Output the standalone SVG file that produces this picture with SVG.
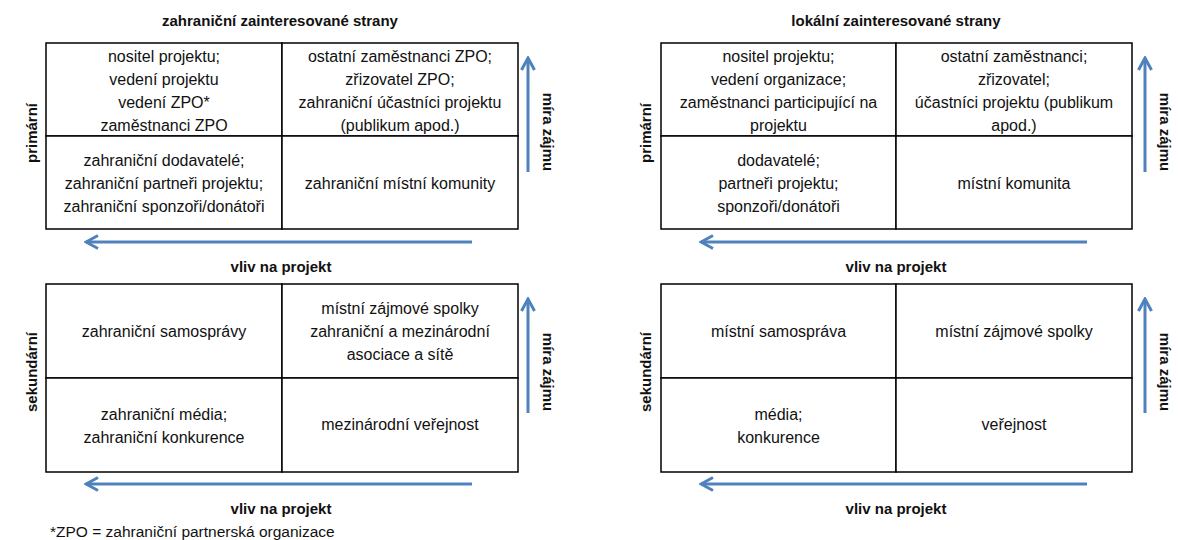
<svg xmlns="http://www.w3.org/2000/svg" width="1178" height="540" viewBox="0 0 1178 540">
<style>
  .cell { fill: #fff; stroke: #000; stroke-width: 1.5; }
  .t { font-family: "Liberation Sans", Arial, sans-serif; font-size: 16px; fill: #111; text-anchor: middle; }
  .b { font-family: "Liberation Sans", Arial, sans-serif; font-size: 15px; font-weight: bold; fill: #111; text-anchor: middle; }
  .fn { font-family: "Liberation Sans", Arial, sans-serif; font-size: 15.5px; fill: #111; }
  .arr { fill: none; stroke: #4F81BD; stroke-width: 3; marker-end: url(#ah); }
</style>
<defs>
  <marker id="ah" viewBox="-14 -9 16 18" refX="0" refY="0" markerWidth="16" markerHeight="18" markerUnits="userSpaceOnUse" orient="auto">
    <path d="M-12,-6.5 L0,0 L-12,6.5" fill="none" stroke="#4F81BD" stroke-width="3" stroke-linejoin="miter"/>
  </marker>
</defs>
<rect width="1178" height="540" fill="#fff"/>

<!-- titles -->
<g id="title-left"><text class="b" x="280" y="26">zahraniční zainteresované strany</text></g>
<g id="title-right"><text class="b" x="896" y="26">lokální zainteresované strany</text></g>

<!-- LEFT TOP GRID -->
<g id="lt-q1"><rect class="cell" x="46" y="43" width="236" height="93"/>
  <text class="t" x="164" y="62">nositel projektu;</text>
  <text class="t" x="164" y="85">vedení projektu</text>
  <text class="t" x="164" y="108">vedení ZPO*</text>
  <text class="t" x="164" y="131">zaměstnanci ZPO</text></g>
<g id="lt-q2"><rect class="cell" x="282" y="43" width="236" height="93"/>
  <text class="t" x="400" y="62">ostatní zaměstnanci ZPO;</text>
  <text class="t" x="400" y="85">zřizovatel ZPO;</text>
  <text class="t" x="400" y="108">zahraniční účastníci projektu</text>
  <text class="t" x="400" y="131">(publikum apod.)</text></g>
<g id="lt-q3"><rect class="cell" x="46" y="136" width="236" height="93"/>
  <text class="t" x="164" y="166">zahraniční dodavatelé;</text>
  <text class="t" x="164" y="189">zahraniční partneři projektu;</text>
  <text class="t" x="164" y="212">zahraniční sponzoři/donátoři</text></g>
<g id="lt-q4"><rect class="cell" x="282" y="136" width="236" height="93"/>
  <text class="t" x="400" y="189">zahraniční místní komunity</text></g>

<!-- LEFT BOTTOM GRID -->
<g id="lb-q1"><rect class="cell" x="46" y="284" width="236" height="94"/>
  <text class="t" x="164" y="337">zahraniční samosprávy</text></g>
<g id="lb-q2"><rect class="cell" x="282" y="284" width="236" height="94"/>
  <text class="t" x="400" y="314">místní zájmové spolky</text>
  <text class="t" x="400" y="337">zahraniční a mezinárodní</text>
  <text class="t" x="400" y="360">asociace a sítě</text></g>
<g id="lb-q3"><rect class="cell" x="46" y="378" width="236" height="94"/>
  <text class="t" x="164" y="420">zahraniční média;</text>
  <text class="t" x="164" y="443">zahraniční konkurence</text></g>
<g id="lb-q4"><rect class="cell" x="282" y="378" width="236" height="94"/>
  <text class="t" x="400" y="430">mezinárodní veřejnost</text></g>

<!-- RIGHT TOP GRID -->
<g id="rt-q1"><rect class="cell" x="661" y="43" width="235" height="93"/>
  <text class="t" x="778.5" y="62">nositel projektu;</text>
  <text class="t" x="778.5" y="85">vedení organizace;</text>
  <text class="t" x="778.5" y="108">zaměstnanci participující na</text>
  <text class="t" x="778.5" y="131">projektu</text></g>
<g id="rt-q2"><rect class="cell" x="896" y="43" width="236" height="93"/>
  <text class="t" x="1014" y="62">ostatní zaměstnanci;</text>
  <text class="t" x="1014" y="85">zřizovatel;</text>
  <text class="t" x="1014" y="108">účastníci projektu (publikum</text>
  <text class="t" x="1014" y="131">apod.)</text></g>
<g id="rt-q3"><rect class="cell" x="661" y="136" width="235" height="93"/>
  <text class="t" x="778.5" y="166">dodavatelé;</text>
  <text class="t" x="778.5" y="189">partneři projektu;</text>
  <text class="t" x="778.5" y="212">sponzoři/donátoři</text></g>
<g id="rt-q4"><rect class="cell" x="896" y="136" width="236" height="93"/>
  <text class="t" x="1014" y="189">místní komunita</text></g>

<!-- RIGHT BOTTOM GRID -->
<g id="rb-q1"><rect class="cell" x="661" y="284" width="235" height="94"/>
  <text class="t" x="778.5" y="337">místní samospráva</text></g>
<g id="rb-q2"><rect class="cell" x="896" y="284" width="236" height="94"/>
  <text class="t" x="1014" y="337">místní zájmové spolky</text></g>
<g id="rb-q3"><rect class="cell" x="661" y="378" width="235" height="94"/>
  <text class="t" x="778.5" y="420">média;</text>
  <text class="t" x="778.5" y="443">konkurence</text></g>
<g id="rb-q4"><rect class="cell" x="896" y="378" width="236" height="94"/>
  <text class="t" x="1014" y="430">veřejnost</text></g>

<!-- axis labels -->
<g id="labels">
  <text class="b" transform="translate(37,133) rotate(-90)">primární</text>
  <text class="b" transform="translate(37,372) rotate(-90)">sekundární</text>
  <text class="b" transform="translate(651,133) rotate(-90)">primární</text>
  <text class="b" transform="translate(651,372) rotate(-90)">sekundární</text>
  <text class="b" transform="translate(543,132) rotate(90)">míra zájmu</text>
  <text class="b" transform="translate(543,372) rotate(90)">míra zájmu</text>
  <text class="b" transform="translate(1160,132) rotate(90)">míra zájmu</text>
  <text class="b" transform="translate(1160,372) rotate(90)">míra zájmu</text>
  <text class="b" x="281" y="272">vliv na projekt</text>
  <text class="b" x="896" y="272">vliv na projekt</text>
  <text class="b" x="281" y="514">vliv na projekt</text>
  <text class="b" x="896" y="514">vliv na projekt</text>
</g>

<!-- connectors (axis arrows) -->
<g id="connectors">
  <line class="arr" x1="472" y1="242" x2="86" y2="242"/>
  <line class="arr" x1="1087" y1="242" x2="701" y2="242"/>
  <line class="arr" x1="472" y1="484" x2="86" y2="484"/>
  <line class="arr" x1="1087" y1="484" x2="701" y2="484"/>
  <line class="arr" x1="528" y1="172" x2="528" y2="58"/>
  <line class="arr" x1="1145" y1="172" x2="1145" y2="58"/>
  <line class="arr" x1="528" y1="413" x2="528" y2="299"/>
  <line class="arr" x1="1145" y1="413" x2="1145" y2="299"/>
</g>

<g id="footnote"><text class="fn" x="50" y="537">*ZPO = zahraniční partnerská organizace</text></g>
</svg>
